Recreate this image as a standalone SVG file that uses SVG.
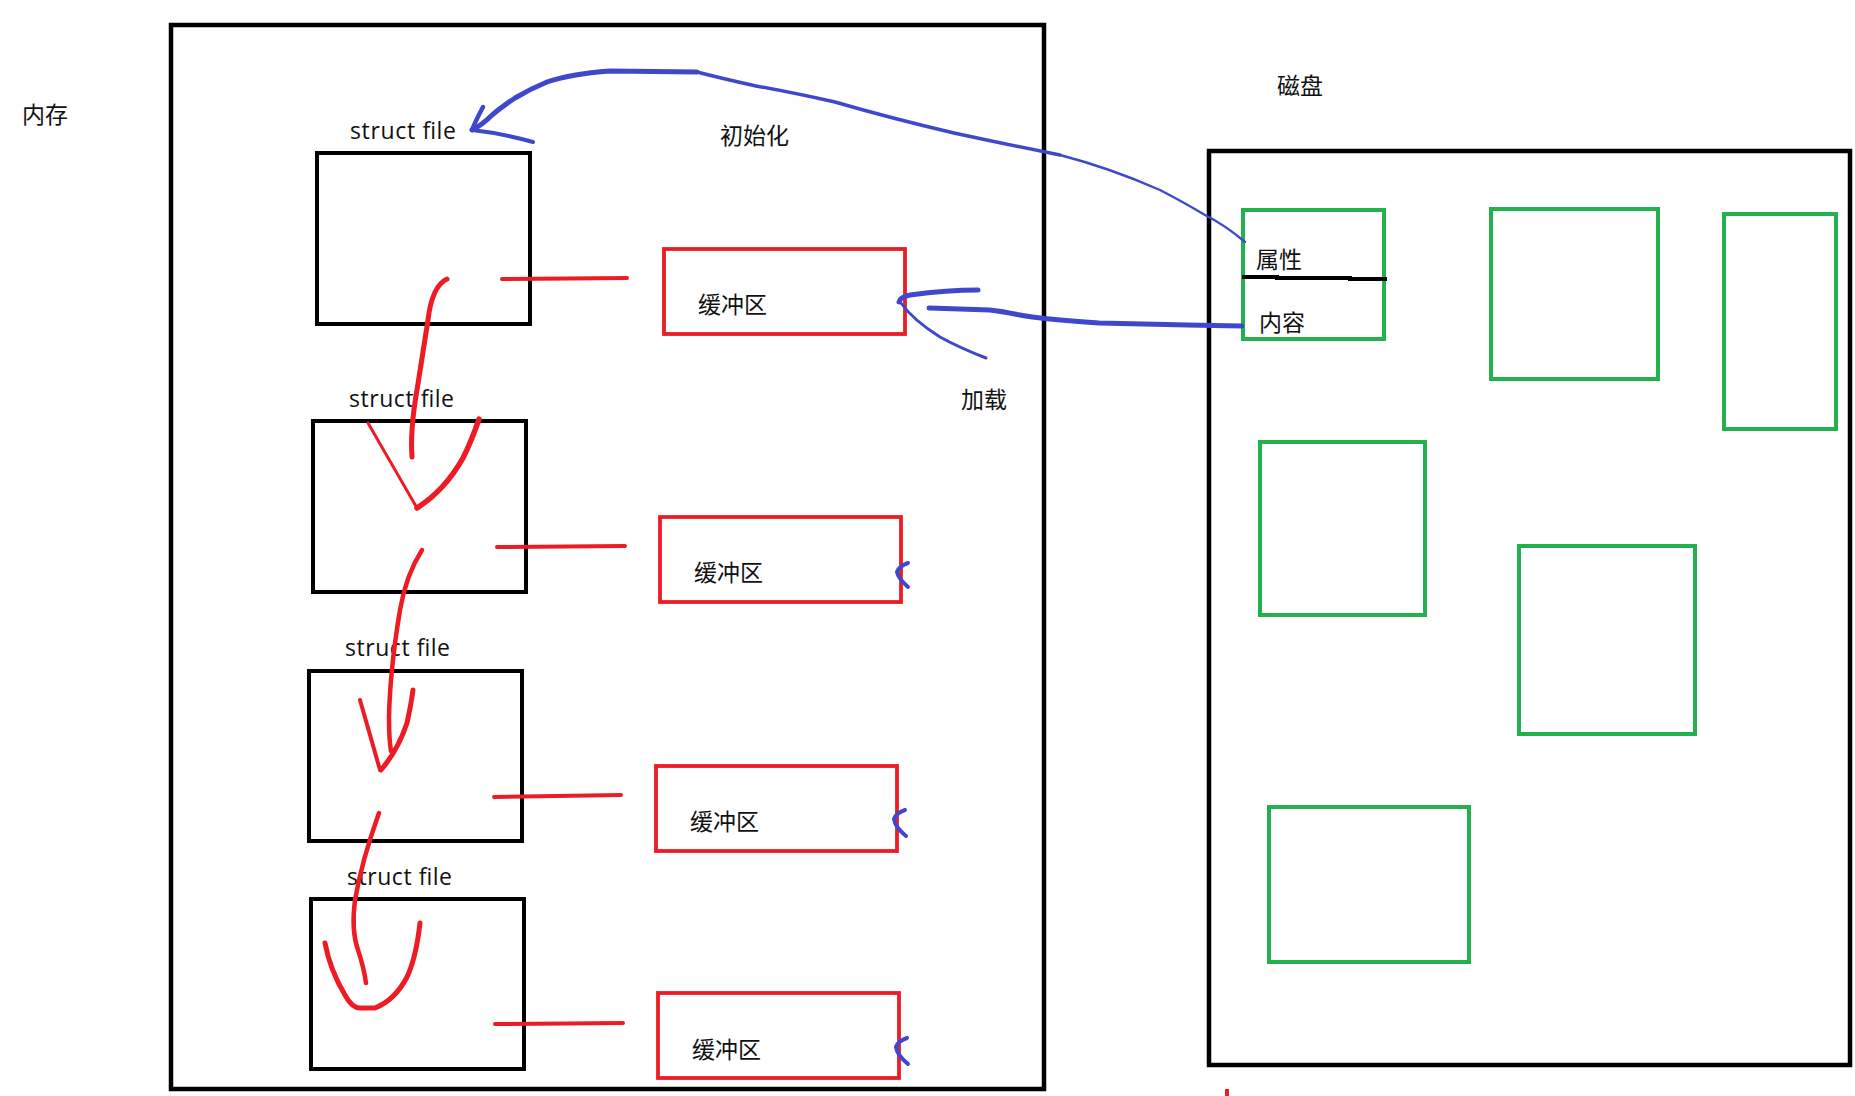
<svg xmlns="http://www.w3.org/2000/svg" width="1855" height="1096" viewBox="0 0 1855 1096">
<style>
text{font-family:"Open Sans","Noto Sans CJK SC",sans-serif;font-size:23px;fill:#111}
.lat{font-size:23px}
.box{fill:none;stroke:#000;stroke-width:4.5}
.file{fill:none;stroke:#000;stroke-width:4}
.buf{fill:none;stroke:#ed1c24;stroke-width:3.8}
.blk{fill:none;stroke:#22b14c;stroke-width:4}
.red{fill:none;stroke:#ed1c24;stroke-linecap:round;stroke-linejoin:round}
.blue{fill:none;stroke:#3f48cc;stroke-linecap:round;stroke-linejoin:round}
</style>
<rect width="1855" height="1096" fill="#fff"/>
<g id="memory">
<rect class="box" x="171" y="25" width="873" height="1064"/>
<text x="22" y="123">内存</text>
</g>
<g id="disk">
<rect class="box" x="1209" y="151" width="641" height="914"/>
<text x="1277" y="94">磁盘</text>
</g>
<g id="label-init"><text x="720" y="144">初始化</text></g>
<g id="label-load"><text x="961" y="408">加载</text></g>
<g id="file1"><rect class="file" x="317" y="153" width="213" height="171"/><text class="lat" x="350" y="139" textLength="106" lengthAdjust="spacing">struct file</text></g>
<g id="file2"><rect class="file" x="313" y="421" width="213" height="171"/><text class="lat" x="349" y="407" textLength="105" lengthAdjust="spacing">struct file</text></g>
<g id="file3"><rect class="file" x="309" y="671" width="213" height="170"/><text class="lat" x="345" y="656" textLength="105" lengthAdjust="spacing">struct file</text></g>
<g id="file4"><rect class="file" x="311" y="899" width="213" height="170"/><text class="lat" x="347" y="885" textLength="105" lengthAdjust="spacing">struct file</text></g>
<g id="buf1"><rect class="buf" x="664" y="249" width="241" height="85"/><text x="698" y="313">缓冲区</text></g>
<g id="buf2"><rect class="buf" x="660" y="517" width="241" height="85"/><text x="694" y="581">缓冲区</text></g>
<g id="buf3"><rect class="buf" x="656" y="766" width="241" height="85"/><text x="690" y="830">缓冲区</text></g>
<g id="buf4"><rect class="buf" x="658" y="993" width="241" height="85"/><text x="692" y="1058">缓冲区</text></g>
<g id="block-inode">
<rect class="blk" x="1243" y="210" width="141" height="129"/>
<path d="M1242,277 L1277,277 L1277,278 L1350,278 L1350,279 L1387,279" fill="none" stroke="#000" stroke-width="4"/>
<text x="1256" y="268">属性</text>
<text x="1259" y="331">内容</text>
</g>
<g id="block2"><rect class="blk" x="1491" y="209" width="167" height="170"/></g>
<g id="block3"><rect class="blk" x="1724" y="214" width="112" height="215"/></g>
<g id="block4"><rect class="blk" x="1260" y="442" width="165" height="173"/></g>
<g id="block5"><rect class="blk" x="1519" y="546" width="176" height="188"/></g>
<g id="block6"><rect class="blk" x="1269" y="807" width="200" height="155"/></g>
<g id="connectors">
<path class="red" stroke-width="4" d="M502,279 L627,278"/>
<path class="red" stroke-width="4" d="M497,547 L625,546"/>
<path class="red" stroke-width="4" d="M494,797 L621,795"/>
<path class="red" stroke-width="4" d="M495,1024 L623,1023"/>
<path class="red" stroke-width="5" d="M447,279 Q432,286 428,320 L417,390 Q410,430 412,457"/>
<path class="red" stroke-width="3" d="M368,423 L417,508"/>
<path class="red" stroke-width="5.5" d="M417,508 Q445,490 463,458 Q472,440 479,419"/>
<path class="red" stroke-width="4.5" d="M422,550 Q406,575 400,610 Q390,670 389,717 Q389,740 391,751"/>
<path class="red" stroke-width="4" d="M360,700 L380,770"/>
<path class="red" stroke-width="5" d="M381,770 Q398,750 407,723 Q411,705 413,690"/>
<path class="red" stroke-width="4.5" d="M379,813 Q362,860 355,900 Q351,930 358,950 Q364,968 366,983"/>
<path class="red" stroke-width="5" d="M325,943 Q330,970 345,995 Q352,1008 360,1008 L375,1008 Q395,1000 407,977 Q416,958 420,923"/>
<rect x="1225" y="1089" width="4" height="7" fill="#ed1c24"/>
<path class="blue" stroke-width="2.4" d="M1245,242 Q1225,225 1205,215 Q1185,203 1160,190 Q1110,168 1060,155"/>
<path class="blue" stroke-width="3.5" d="M1060,155 Q1000,143 954,133 Q890,118 835,102 Q790,92 756,86 Q720,78 697,72"/>
<path class="blue" stroke-width="5" d="M697,72 L610,71 Q570,74 547,82 Q530,89 515,98 Q500,108 491,116 Q482,125 472,130"/>
<path class="blue" stroke-width="4.5" d="M472,130 Q476,120 483,107"/>
<path class="blue" stroke-width="4" d="M472,130 Q500,133 533,142"/>
<path class="blue" stroke-width="5" d="M1242,326 L1187,325 L1099,323 Q1070,321 1050,319 Q1030,317 1020,315 Q1000,311 990,310 L929,308"/>
<path class="blue" stroke-width="5" d="M978,290 Q947,290 910,295 Q900,297 899,302"/>
<path class="blue" stroke-width="3" d="M901,303 Q913,320 940,337 Q960,348 986,358"/>
<path class="blue" stroke-width="4" d="M908,563 Q899,566 897,572 Q898,578 908,587"/>
<path class="blue" stroke-width="4" d="M905,810 Q896,813 894,819 Q895,827 906,836"/>
<path class="blue" stroke-width="4" d="M907,1038 Q898,1041 896,1047 Q897,1055 908,1064"/>
</g>
</svg>
